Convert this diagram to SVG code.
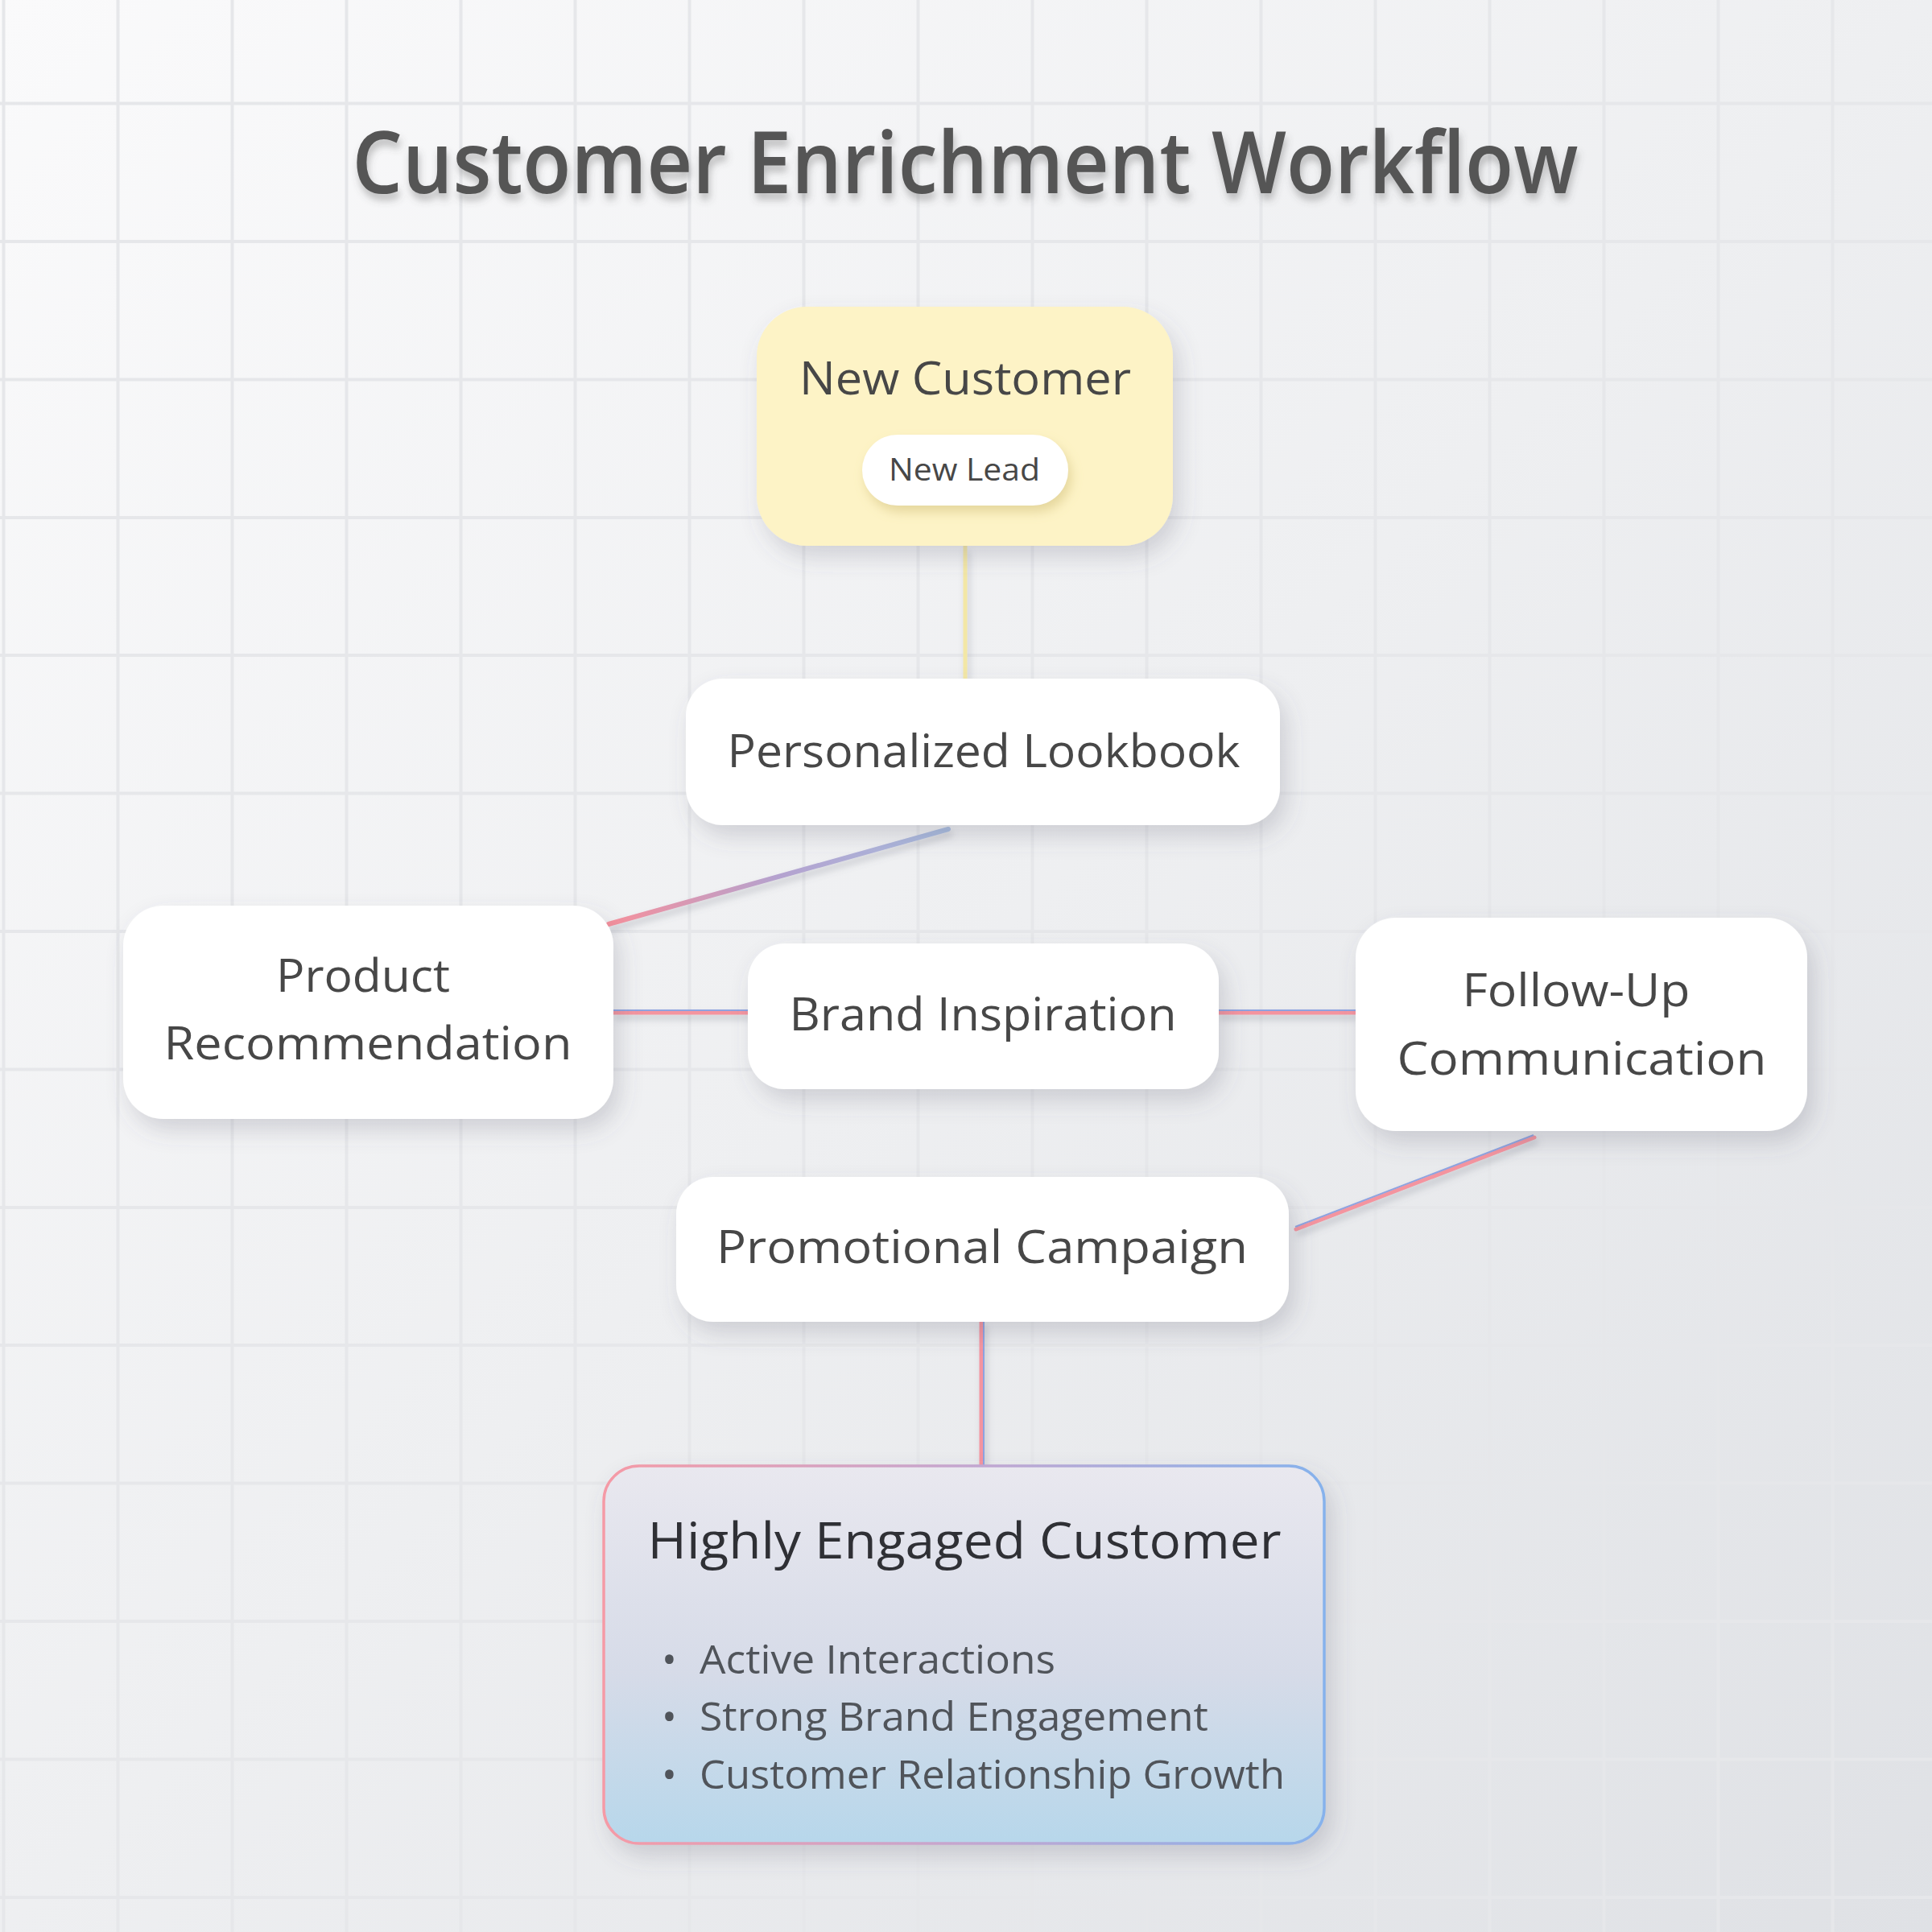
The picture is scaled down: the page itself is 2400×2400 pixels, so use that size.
<svg xmlns="http://www.w3.org/2000/svg" width="2400" height="2400" viewBox="0 0 2400 2400">
<defs>
  <linearGradient id="bg" x1="0" y1="0" x2="1" y2="1">
    <stop offset="0" stop-color="#fafafb"/>
    <stop offset="0.5" stop-color="#eeeff1"/>
    <stop offset="1" stop-color="#dfe1e5"/>
  </linearGradient>
  <linearGradient id="heFill" x1="0" y1="0" x2="0" y2="1">
    <stop offset="0" stop-color="#e9e8ef"/>
    <stop offset="0.55" stop-color="#d6dbe8"/>
    <stop offset="1" stop-color="#b7d7eb"/>
  </linearGradient>
  <linearGradient id="heStroke" x1="0" y1="0" x2="1" y2="0">
    <stop offset="0" stop-color="#f59aa6"/>
    <stop offset="0.5" stop-color="#c4a6cf"/>
    <stop offset="1" stop-color="#86b2ec"/>
  </linearGradient>
  <linearGradient id="diag1" gradientUnits="userSpaceOnUse" x1="1178" y1="1030" x2="756" y2="1148">
    <stop offset="0" stop-color="#a9bde0"/>
    <stop offset="0.5" stop-color="#b4a2cf"/>
    <stop offset="1" stop-color="#f6909c"/>
  </linearGradient>
  <filter id="shadow" x="-20%" y="-20%" width="150%" height="160%">
    <feDropShadow dx="8" dy="14" stdDeviation="14" flood-color="#5a5f6e" flood-opacity="0.22"/>
  </filter>
  <filter id="pillShadow" x="-20%" y="-30%" width="150%" height="180%">
    <feDropShadow dx="4" dy="8" stdDeviation="7" flood-color="#c9b56a" flood-opacity="0.45"/>
  </filter>
  <filter id="lineShadow" x="-10%" y="-50%" width="120%" height="300%">
    <feDropShadow dx="3" dy="6" stdDeviation="4" flood-color="#6a6f7e" flood-opacity="0.3"/>
  </filter>
  <filter id="titleShadow" x="-5%" y="-30%" width="110%" height="170%">
    <feDropShadow dx="2" dy="8" stdDeviation="5" flood-color="#555" flood-opacity="0.35"/>
  </filter>
</defs>
<style>
  .grid { stroke: #e6e7ea; stroke-width: 4; fill: none; }
  .node { fill: #ffffff; filter: url(#shadow); }
  .lbl { font-family: "Open Sans", "Noto Sans", sans-serif; font-weight: 500; font-size: 57px; fill: #474747; text-anchor: middle; }
  .title { font-family: "Open Sans", "Noto Sans", sans-serif; font-weight: 600; font-size: 106px; fill: #555555; text-anchor: middle; filter: url(#titleShadow); }
  .bullet { font-family: "Open Sans", "Noto Sans", sans-serif; font-weight: 400; font-size: 50px; fill: #50545a; }
  .pink { stroke: #f4949f; stroke-width: 5; fill: none; stroke-linecap: round; }
  .blue { stroke: #8ea3e0; stroke-width: 2; fill: none; }
</style>
<rect width="2400" height="2400" fill="url(#bg)"/>
<path class="grid" d="M4.5 0V2400M146.5 0V2400M288.5 0V2400M430.5 0V2400M572.5 0V2400M714.5 0V2400M856.5 0V2400M998.5 0V2400M1140.5 0V2400M1282.5 0V2400M1424.5 0V2400M1566.5 0V2400M1708.5 0V2400M1850.5 0V2400M1992.5 0V2400M2134.5 0V2400M2276.5 0V2400M0 128.5H2400M0 300H2400M0 471.5H2400M0 643H2400M0 814H2400M0 985.5H2400M0 1157H2400M0 1328.5H2400M0 1500H2400M0 1671H2400M0 1842.5H2400M0 2014H2400M0 2185.5H2400M0 2357H2400"/>

<text class="title" x="1199" y="240" textLength="1523" lengthAdjust="spacingAndGlyphs">Customer Enrichment Workflow</text>

<g id="connectors" filter="url(#lineShadow)">
  <line x1="1199" y1="678" x2="1199" y2="843" stroke="#f3e7a6" stroke-width="5"/>
  <line x1="1178" y1="1030" x2="756" y2="1148" stroke="url(#diag1)" stroke-width="6" stroke-linecap="round"/>
  <g><line class="pink" x1="762" y1="1258" x2="929" y2="1258"/><line class="blue" x1="762" y1="1255" x2="929" y2="1255"/></g>
  <g><line class="pink" x1="1514" y1="1258" x2="1684" y2="1258"/><line class="blue" x1="1514" y1="1255" x2="1684" y2="1255"/></g>
  <g><line class="pink" x1="1906" y1="1413" x2="1610" y2="1527"/><line class="blue" x1="1905" y1="1410" x2="1609" y2="1524"/></g>
  <g><line class="pink" x1="1219" y1="1642" x2="1219" y2="1821"/><line class="blue" x1="1222" y1="1642" x2="1222" y2="1821"/></g>
</g>

<g id="new-customer">
  <rect x="940" y="381" width="517" height="297" rx="62" fill="#fdf3c6" filter="url(#shadow)"/>
  <text class="lbl" x="1199" y="490" fill="#45423c" textLength="412" lengthAdjust="spacingAndGlyphs">New Customer</text>
  <g id="new-lead">
    <rect x="1071" y="540" width="256" height="88" rx="44" fill="#ffffff" filter="url(#pillShadow)"/>
    <text class="lbl" x="1198" y="597" style="font-size:39px" textLength="188" lengthAdjust="spacingAndGlyphs">New Lead</text>
  </g>
</g>

<g id="personalized-lookbook">
  <rect class="node" x="852" y="843" width="738" height="182" rx="46"/>
  <text class="lbl" x="1222" y="953" textLength="637" lengthAdjust="spacingAndGlyphs">Personalized Lookbook</text>
</g>

<g id="product-recommendation">
  <rect class="node" x="153" y="1125" width="609" height="265" rx="50"/>
  <text class="lbl" x="451" y="1232" textLength="216" lengthAdjust="spacingAndGlyphs">Product</text>
  <text class="lbl" x="457" y="1316" textLength="507" lengthAdjust="spacingAndGlyphs">Recommendation</text>
</g>

<g id="brand-inspiration">
  <rect class="node" x="929" y="1172" width="585" height="181" rx="46"/>
  <text class="lbl" x="1221" y="1280" textLength="481" lengthAdjust="spacingAndGlyphs">Brand Inspiration</text>
</g>

<g id="follow-up-communication">
  <rect class="node" x="1684" y="1140" width="561" height="265" rx="50"/>
  <text class="lbl" x="1958" y="1250" textLength="283" lengthAdjust="spacingAndGlyphs">Follow-Up</text>
  <text class="lbl" x="1965" y="1335" textLength="459" lengthAdjust="spacingAndGlyphs">Communication</text>
</g>

<g id="promotional-campaign">
  <rect class="node" x="840" y="1462" width="761" height="180" rx="46"/>
  <text class="lbl" x="1220" y="1569" textLength="660" lengthAdjust="spacingAndGlyphs">Promotional Campaign</text>
</g>

<g id="highly-engaged-customer">
  <rect x="750" y="1821" width="895" height="469" rx="44" fill="url(#heFill)" stroke="url(#heStroke)" stroke-width="3.5" filter="url(#shadow)"/>
  <text class="lbl" x="1198" y="1936" style="font-size:62px;fill:#2f3035" textLength="787" lengthAdjust="spacingAndGlyphs">Highly Engaged Customer</text>
  <text class="bullet" x="822" y="2079">•</text>
  <text class="bullet" x="869" y="2079" textLength="442" lengthAdjust="spacingAndGlyphs">Active Interactions</text>
  <text class="bullet" x="822" y="2150">•</text>
  <text class="bullet" x="869" y="2150" textLength="632" lengthAdjust="spacingAndGlyphs">Strong Brand Engagement</text>
  <text class="bullet" x="822" y="2222">•</text>
  <text class="bullet" x="869" y="2222" textLength="727" lengthAdjust="spacingAndGlyphs">Customer Relationship Growth</text>
</g>
</svg>
